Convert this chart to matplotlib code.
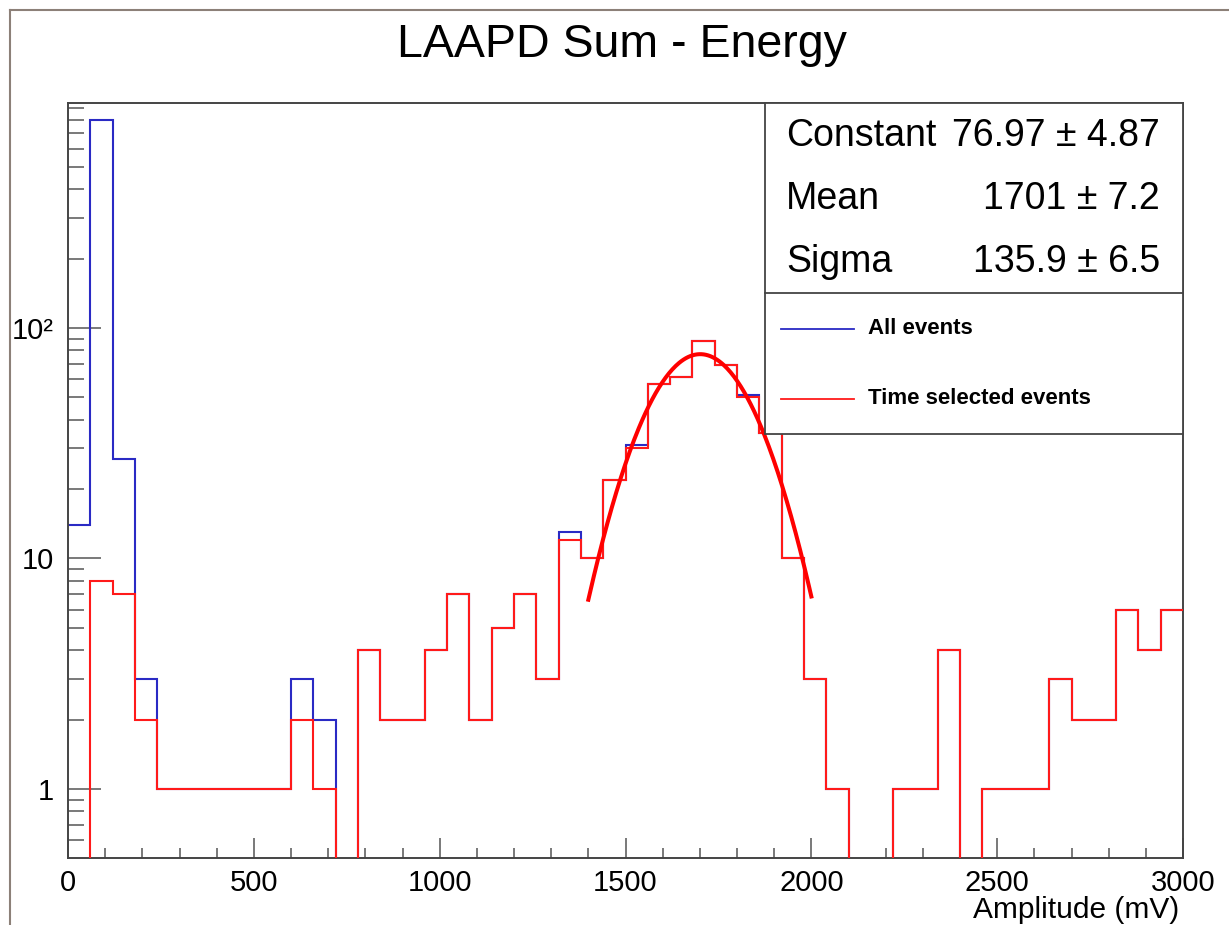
import numpy as np
import matplotlib.pyplot as plt
from matplotlib.lines import Line2D
from matplotlib.patches import Rectangle
from matplotlib.ticker import LogLocator, NullFormatter, MultipleLocator

plt.rcParams['font.family'] = ['Liberation Sans', 'DejaVu Sans']

# 50 bins of 60 mV from 0 to 3000 mV
edges = np.arange(0, 3001, 60)

all_events = [14, 795, 27, 3, 1, 1, 1, 1, 1, 1,
              3, 2, 0, 4, 2, 2, 4, 7, 2, 5,
              7, 3, 13, 10, 22, 31, 57, 61, 88, 69,
              51, 35, 10, 3, 1, 0, 0, 1, 1, 4,
              0, 1, 1, 1, 3, 2, 2, 6, 4, 6]
time_selected = [0, 8, 7, 2, 1, 1, 1, 1, 1, 1,
                 2, 1, 0, 4, 2, 2, 4, 7, 2, 5,
                 7, 3, 12, 10, 22, 30, 57, 61, 88, 69,
                 50, 35, 10, 3, 1, 0, 0, 1, 1, 4,
                 0, 1, 1, 1, 3, 2, 2, 6, 4, 6]

# gaussian fit results
fit_constant = 76.97
fit_mean = 1701
fit_sigma = 135.9
fit_range = (1400, 2000)
fit_labels = ["Constant", "Mean", "Sigma"]
fit_values = ["76.97 \u00b1 4.87", "1701 \u00b1 7.2", "135.9 \u00b1 6.5"]

legend_labels = ["All events", "Time selected events"]

W, H = 1229, 925
fig = plt.figure(figsize=(W / 100, H / 100), dpi=100)

def fx(px):
    return px / W

def fy(py):
    return 1 - py / H

ax = fig.add_axes([fx(68), fy(858), fx(1183) - fx(68), fy(103) - fy(858)])
ax.set_yscale('log')

blue = '#2a2ac4'
red = '#ff1a1a'
floor = 1e-3  # empty bins drawn below the axis

ax.stairs(np.where(np.array(all_events) > 0, all_events, floor), edges,
          baseline=None, color=blue, lw=1.5, zorder=2)
ax.stairs(np.where(np.array(time_selected) > 0, time_selected, floor), edges,
          baseline=None, color=red, lw=1.5, zorder=3)

xf = np.linspace(fit_range[0], fit_range[1], 200)
yf = fit_constant * np.exp(-0.5 * ((xf - fit_mean) / fit_sigma) ** 2)
ax.plot(xf, yf, color='#ff0000', lw=2.9, zorder=4)

ax.set_xlim(0, 3000)
ax.set_ylim(0.502, 946)

ax.set_xticks([0, 500, 1000, 1500, 2000, 2500, 3000])
ax.xaxis.set_minor_locator(MultipleLocator(100))
ax.set_yticks([1, 10, 100], ['1', '10', '10\u00b2'])
ax.yaxis.set_minor_locator(LogLocator(base=10, subs=np.arange(2, 10)))
ax.yaxis.set_minor_formatter(NullFormatter())

ax.tick_params(axis='x', which='major', direction='in', length=14.5, width=1.1,
               color='#555555', labelsize=21, pad=8)
ax.tick_params(axis='x', which='minor', direction='in', length=7.5, width=1.1,
               color='#555555')
ax.tick_params(axis='y', which='major', direction='in', length=24, width=1.1,
               color='#555555', labelsize=21, pad=10)
ax.tick_params(axis='y', which='minor', direction='in', length=11.5, width=1.1,
               color='#555555')
for s in ax.spines.values():
    s.set_color('#444444')
    s.set_linewidth(1.4)

fig.text(fx(1179), fy(910), "Amplitude (mV)", ha='right', va='center', fontsize=21.5)
fig.text(fx(622), fy(45), "LAAPD Sum - Energy", ha='center', va='center', fontsize=33.5)

# stats + legend box
box = Rectangle((fx(765), fy(434)), fx(1183) - fx(765), fy(103) - fy(434),
                transform=fig.transFigure, facecolor='white', edgecolor='#444444',
                lw=1.3, zorder=10)
fig.add_artist(box)
fig.add_artist(Line2D([fx(765), fx(1183)], [fy(293), fy(293)],
                      color='#444444', lw=1.3, zorder=11))
for i, (lab, val) in enumerate(zip(fit_labels, fit_values)):
    yy = fy(136 + i * 63)
    fig.text(fx(786), yy, lab, ha='left', va='center', fontsize=27, zorder=12)
    fig.text(fx(1160), yy, val, ha='right', va='center', fontsize=27, zorder=12)

for i, (lab, c) in enumerate(zip(legend_labels, [blue, red])):
    yy = fy(329 + i * 70)
    fig.add_artist(Line2D([fx(781), fx(854)], [yy, yy], color=c, lw=1.3, zorder=12))
    fig.text(fx(868), yy, lab, ha='left', va='center', fontsize=16,
             fontweight='bold', zorder=12)

# canvas border
border = '#8c8078'
fig.add_artist(Line2D([fx(10), fx(10)], [fy(10), 0], color=border, lw=1.5))
fig.add_artist(Line2D([fx(10), 1], [fy(10), fy(10)], color=border, lw=1.5))

fig.savefig('out.png', dpi=100)
